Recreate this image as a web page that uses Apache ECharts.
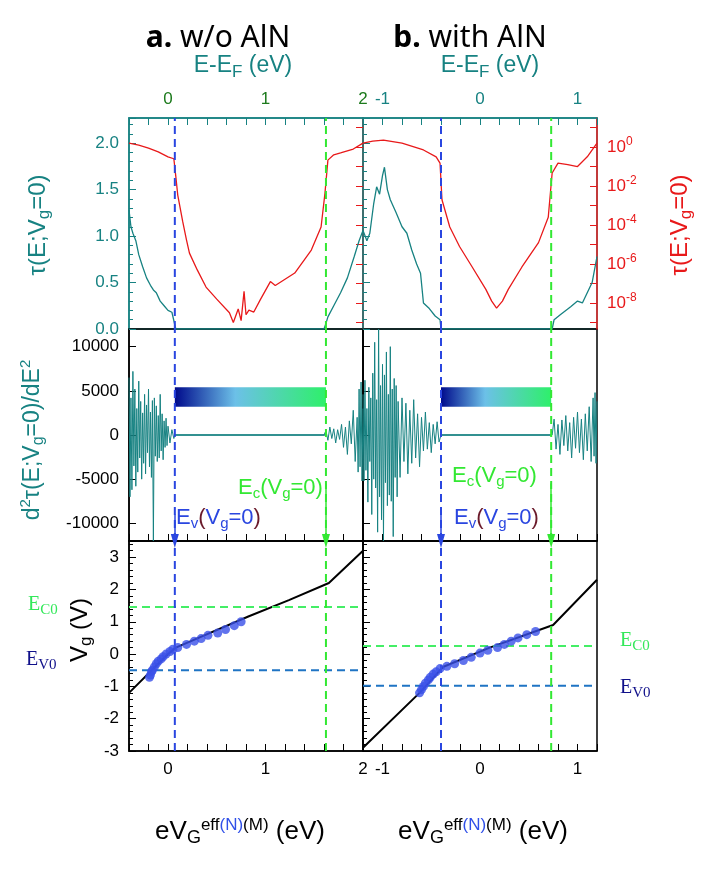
<!DOCTYPE html>
<html><head><meta charset="utf-8">
<script src="https://cdn.jsdelivr.net/npm/echarts@6/dist/echarts.min.js"></script>
<style>html,body{margin:0;padding:0;background:#fff}#c{width:720px;height:869px}</style>
</head><body><div id="c"></div>
<script>
// ---- data ----
// top row: transmission tau (linear, teal) and log10(tau) (red)
const tauA = [[-0.4,1.28],[-0.38,1.1],[-0.36,1.03],[-0.33,0.95],[-0.3,0.8],[-0.26,0.67],[-0.22,0.55],[-0.18,0.47],[-0.15,0.42],[-0.12,0.39],[-0.08,0.3],[-0.04,0.25],[0.0,0.2],[0.04,0.18],[0.08,0],[1.6,0],[1.62,0.06],[1.64,0.13],[1.7,0.25],[1.77,0.39],[1.84,0.55],[1.91,0.78],[1.96,0.95],[2.0,1.06]];
const logTauA = [[-0.4,0.2],[-0.3,0.1],[-0.2,-0.05],[-0.1,-0.25],[0.0,-0.5],[0.06,-0.6],[0.08,-1.5],[0.1,-2.46],[0.15,-3.8],[0.19,-4.77],[0.22,-5.44],[0.3,-6.3],[0.39,-7.18],[0.5,-7.8],[0.63,-8.5],[0.67,-9.0],[0.72,-8.3],[0.75,-8.9],[0.78,-7.4],[0.8,-8.6],[0.83,-8.36],[0.88,-8.46],[0.95,-7.8],[1.05,-6.9],[1.1,-7.1],[1.3,-6.46],[1.47,-5.28],[1.57,-4.1],[1.61,-2.36],[1.64,-0.67],[1.7,-0.4],[1.77,-0.3],[1.9,-0.1],[2.0,0.2]];
const tauB = [[-1.2,1.06],[-1.16,0.95],[-1.13,1.03],[-1.09,1.35],[-1.06,1.53],[-1.03,1.45],[-1.0,1.65],[-0.98,1.74],[-0.95,1.5],[-0.92,1.39],[-0.86,1.25],[-0.8,1.1],[-0.75,1.03],[-0.7,0.85],[-0.65,0.7],[-0.61,0.6],[-0.58,0.28],[-0.52,0.22],[-0.46,0.14],[-0.41,0.1],[-0.4,0],[0.74,0],[0.76,0.1],[0.82,0.15],[0.88,0.2],[0.93,0.24],[1.0,0.3],[1.05,0.28],[1.1,0.39],[1.15,0.5],[1.2,0.78]];
const logTauB = [[-1.2,0.2],[-1.1,0.3],[-0.99,0.36],[-0.8,0.2],[-0.58,-0.15],[-0.45,-0.5],[-0.41,-0.82],[-0.39,-2.7],[-0.31,-4.1],[-0.21,-5.1],[-0.08,-6.15],[0.06,-7.3],[0.12,-7.9],[0.17,-8.26],[0.23,-7.9],[0.29,-7.3],[0.43,-6.15],[0.6,-4.9],[0.7,-3.6],[0.74,-1.33],[0.8,-0.82],[0.9,-0.9],[1.0,-1.0],[1.1,-0.5],[1.2,0.2]];

// middle row: d2tau/dE2 (noisy second derivative)
const d2A = [[-0.4,6500],[-0.39,-7000],[-0.38,4200],[-0.37,-6200],[-0.36,7200],[-0.35,-3500],[-0.34,5200],[-0.33,-5800],[-0.32,3000],[-0.31,-4200],[-0.3,6100],[-0.29,-2600],[-0.28,3800],[-0.27,-5000],[-0.26,2500],[-0.25,-3200],[-0.24,4600],[-0.23,-4400],[-0.22,3400],[-0.21,-2000],[-0.2,5200],[-0.19,-3600],[-0.18,2600],[-0.17,-4800],[-0.16,3900],[-0.15,-12000],[-0.14,4200],[-0.13,-2400],[-0.12,3300],[-0.11,-3000],[-0.1,2200],[-0.09,-2600],[-0.08,4600],[-0.07,-1800],[-0.06,2400],[-0.05,-2800],[-0.04,1600],[-0.03,-1400],[-0.02,1900],[-0.01,-1200],[0.0,1000],[0.02,-900],[0.04,600],[0.06,-400],[0.07,0],[1.6,0],[1.62,500],[1.64,-600],[1.66,900],[1.68,-400],[1.7,700],[1.72,-900],[1.74,600],[1.76,-500],[1.78,1200],[1.8,-1400],[1.82,900],[1.84,-2200],[1.86,1600],[1.88,-1000],[1.9,2800],[1.92,-3000],[1.94,2000],[1.95,-4200],[1.96,5200],[1.97,-3600],[1.98,6000],[1.99,-5200],[2.0,3000]];
const d2B = [[-1.2,4600],[-1.19,-5200],[-1.18,6200],[-1.17,-4000],[-1.16,3000],[-1.15,-7600],[-1.14,5400],[-1.13,-3000],[-1.12,4200],[-1.11,-9000],[-1.1,7000],[-1.09,-5000],[-1.08,10500],[-1.07,-6000],[-1.06,4000],[-1.05,-11000],[-1.04,12000],[-1.03,-7000],[-1.02,5600],[-1.01,-9600],[-1.0,8000],[-0.99,-12000],[-0.98,6800],[-0.97,-5400],[-0.96,9400],[-0.95,-8000],[-0.94,4600],[-0.93,-6800],[-0.92,10000],[-0.91,-7500],[-0.9,5200],[-0.89,-11500],[-0.88,6400],[-0.87,-4800],[-0.86,5600],[-0.85,-7000],[-0.84,3800],[-0.82,-4800],[-0.8,4200],[-0.78,-3000],[-0.76,3600],[-0.74,-4400],[-0.72,2800],[-0.7,-3200],[-0.68,4000],[-0.66,-2600],[-0.64,2400],[-0.62,-3600],[-0.6,2000],[-0.58,-1800],[-0.56,2600],[-0.54,-1600],[-0.52,1400],[-0.5,-2000],[-0.48,1200],[-0.46,-1000],[-0.44,1500],[-0.42,-800],[-0.4,0],[0.74,0],[0.76,1800],[0.78,-1600],[0.8,1200],[0.82,-2200],[0.84,1700],[0.86,-1200],[0.88,2200],[0.9,-1800],[0.92,1400],[0.94,-2600],[0.96,2000],[0.98,-1500],[1.0,2600],[1.02,-2000],[1.04,1800],[1.06,-2800],[1.08,2400],[1.1,-1800],[1.12,3200],[1.14,-3000],[1.16,4200],[1.17,-2400],[1.18,4800],[1.19,-3200],[1.2,3800]];

// bottom row: Vg versus eVG (line) and measured points
const vgLineA = [[-0.4,-1.2],[0.0,0.0],[0.08,0.2],[0.83,1.17],[1.24,1.67],[1.65,2.2],[2.0,3.2]];
const vgDotsA = [[-0.19,-0.72],[-0.18,-0.65],[-0.17,-0.55],[-0.16,-0.5],[-0.14,-0.4],[-0.12,-0.3],[-0.1,-0.22],[-0.07,-0.15],[-0.05,-0.08],[-0.02,0.0],[0.02,0.08],[0.05,0.15],[0.1,0.2],[0.19,0.3],[0.27,0.4],[0.34,0.48],[0.41,0.58],[0.51,0.65],[0.59,0.76],[0.68,0.88],[0.75,1.0]];
const vgLineB = [[-1.2,-2.9],[-0.62,-1.2],[-0.38,-0.4],[0.1,0.2],[0.75,0.9],[1.2,2.3]];
const vgDotsB = [[-0.62,-1.2],[-0.6,-1.1],[-0.58,-1.0],[-0.56,-0.9],[-0.53,-0.8],[-0.51,-0.72],[-0.48,-0.62],[-0.45,-0.55],[-0.41,-0.45],[-0.34,-0.38],[-0.26,-0.3],[-0.17,-0.2],[-0.09,-0.1],[0.0,0.03],[0.08,0.12],[0.18,0.2],[0.25,0.3],[0.32,0.4],[0.39,0.5],[0.48,0.6],[0.57,0.7]];

// band edges and reference levels
const evEdge = [0.07, -0.4];
const ecEdge = [1.62, 0.73];
const ec0 = [1.46, 0.25];
const ev0 = [-0.5, -0.98];
const gapBand = [3200, 5400];

const xRange = [[-0.4, 2], [-1.2, 1.2]];
const xTicks = [[0, 1, 2], [-1, 0, 1]];
const logTicks = [-8, -6, -4, -2, 0];

const TEAL = '#178282', RED = '#e8191a', BLUE = '#2a46e0', GREEN = '#33e833';

const chart = echarts.init(document.getElementById('c'));
const colL = [129, 363], colW = 234;
const rowT = [118, 329, 541], rowH = [211, 212, 210];
const grids = [];
for (let r = 0; r < 3; r++) for (let c = 0; c < 2; c++)
  grids.push({ left: colL[c], top: rowT[r], width: colW, height: rowH[r], show: true,
    borderColor: r === 0 ? TEAL : '#000', borderWidth: 1.5, backgroundColor: 'transparent' });

function minorVals(c) {
  const out = [];
  const a = xRange[c][0], b = xRange[c][1];
  for (let k = Math.round(a * 5); k <= Math.round(b * 5); k++) out.push(k / 5);
  return out;
}
const xAxes = [];
for (let r = 0; r < 3; r++) for (let c = 0; c < 2; c++) {
  const lc = r === 0 ? TEAL : '#000';
  xAxes.push({
    type: 'value', gridIndex: r * 2 + c, min: xRange[c][0], max: xRange[c][1],
    position: r === 0 ? 'top' : 'bottom',
    axisLine: { lineStyle: { color: lc, width: 1.5 }, onZero: false },
    axisTick: { inside: true, length: 7, customValues: minorVals(c), lineStyle: { color: lc } },
    splitLine: { show: false },
    axisLabel: {
      show: r !== 1, customValues: xTicks[c], fontSize: 17, margin: 10,
      color: r === 0 ? (c === 0 ? '#1c7a1c' : TEAL) : '#000', fontFamily: 'Liberation Sans'
    }
  });
}
const yAxes = [
  { gridIndex: 0, min: 0, max: 2.27, interval: 0.5, showLabel: true, color: TEAL, fmt: v => v.toFixed(1), noMax: true },
  { gridIndex: 0, min: -9.33, max: 1.49, log: true, showLabel: false, color: RED },
  { gridIndex: 1, min: 0, max: 2.27, interval: 0.5, showLabel: false, color: TEAL },
  { gridIndex: 1, min: -9.33, max: 1.49, log: true, showLabel: true, color: RED },
  { gridIndex: 2, min: -12000, max: 12000, custom: [-10000, -5000, 0, 5000, 10000], showLabel: true, color: '#000' },
  { gridIndex: 3, min: -12000, max: 12000, custom: [-10000, -5000, 0, 5000, 10000], showLabel: false, color: '#000' },
  { gridIndex: 4, min: -3, max: 3.5, interval: 1, showLabel: true, color: '#000', noMax: true },
  { gridIndex: 5, min: -3, max: 3.5, interval: 1, showLabel: false, color: '#000' }
].map(a => {
  const o = {
    type: 'value', gridIndex: a.gridIndex, min: a.min, max: a.max,
    position: a.log ? 'right' : 'left',
    axisLine: { show: true, onZero: false, lineStyle: { color: a.color, width: 1.5 } },
    axisTick: { inside: true, length: 7, lineStyle: { color: a.color } },
    minorTick: { show: !a.log, splitNumber: 5, length: 4, lineStyle: { color: a.color } },
    splitLine: { show: false },
    axisLabel: { show: a.showLabel, fontSize: 17, color: a.color, fontFamily: 'Liberation Sans', margin: 10,
      formatter: v => String(v) }
  };
  if (a.noMax) o.axisLabel.showMaxLabel = false;
  if (a.interval) o.interval = a.interval;
  if (a.custom) { o.axisTick.customValues = a.custom; o.axisLabel.customValues = a.custom; o.minorTick.show = false; }
  if (a.fmt) o.axisLabel.formatter = a.fmt;
  if (a.log) {
    o.axisTick.customValues = [-9, -8, -7, -6, -5, -4, -3, -2, -1, 0, 1];
    o.axisLabel.customValues = logTicks;
    o.axisLabel.formatter = v => '10{s|' + v + '}';
    o.axisLabel.rich = { s: { fontSize: 12, color: RED, padding: [0, 0, 10, 0], fontFamily: 'Liberation Sans' } };
  }
  return o;
});

const series = [];
function line(xi, yi, data, color, width, dash, z) {
  series.push({ type: 'line', xAxisIndex: xi, yAxisIndex: yi, data, showSymbol: false, symbol: 'none',
    lineStyle: { color, width: width || 1.3, type: dash ? [8, 5] : 'solid' }, z: z || 2, silent: true, animation: false });
  return series[series.length - 1];
}
// top row
line(0, 0, tauA, TEAL); line(0, 1, logTauA, RED);
line(1, 2, tauB, TEAL); line(1, 3, logTauB, RED);
// middle row
line(2, 4, d2A, TEAL, 1); line(3, 5, d2B, TEAL, 1);
// bottom row
line(4, 6, vgLineA, '#000', 2); line(5, 7, vgLineB, '#000', 2);
[[4, 6, vgDotsA], [5, 7, vgDotsB]].forEach(([xi, yi, d]) => series.push({
  type: 'scatter', xAxisIndex: xi, yAxisIndex: yi, data: d, symbolSize: 9,
  itemStyle: { color: '#3a50e8' }, z: 5, animation: false }));
// horizontal reference levels
for (let c = 0; c < 2; c++) {
  line(4 + c, 6 + c, [[xRange[c][0], ec0[c]], [xRange[c][1], ec0[c]]], '#44ee66', 2, true, 3);
  line(4 + c, 6 + c, [[xRange[c][0], ev0[c]], [xRange[c][1], ev0[c]]], '#1f74c4', 2, true, 3);
}
// vertical band-edge lines through all rows
const yIdx = [[0, 2], [4, 5], [6, 7]], yLim = [[0, 2.27], [-12000, 12000], [-3, 3.5]];
for (let r = 0; r < 3; r++) for (let c = 0; c < 2; c++) {
  const xi = r * 2 + c, yi = yIdx[r][c];
  const b = line(xi, yi, [[evEdge[c], yLim[r][0]], [evEdge[c], yLim[r][1]]], BLUE, 2, true, 4);
  const g = line(xi, yi, [[ecEdge[c], yLim[r][0]], [ecEdge[c], yLim[r][1]]], GREEN, 2, true, 4);
  if (r === 1) {
    b.markLine = { silent: true, symbol: ['none', 'triangle'], symbolSize: [8, 14], label: { show: false },
      lineStyle: { color: BLUE, width: 1.5, type: 'solid' }, animation: false,
      data: [[{ coord: [evEdge[c], -9000] }, { coord: [evEdge[c], -12000] }]] };
    g.markLine = { silent: true, symbol: ['none', 'triangle'], symbolSize: [8, 14], label: { show: false },
      lineStyle: { color: GREEN, width: 1.5, type: 'solid' }, animation: false,
      data: [[{ coord: [ecEdge[c], -5500] }, { coord: [ecEdge[c], -12000] }]] };
    // flat zero line across the gap and gradient band
    line(xi, yi, [[evEdge[c], 0], [ecEdge[c], 0]], TEAL, 1.5, false, 3);
    series.push({ type: 'line', xAxisIndex: xi, yAxisIndex: yi, data: [], silent: true,
      markArea: { silent: true, animation: false,
        itemStyle: { color: new echarts.graphic.LinearGradient(0, 0, 1, 0, [
          { offset: 0, color: '#000a8c' }, { offset: 0.4, color: '#6cc0e8' }, { offset: 1, color: '#2ef06a' }]) },
        data: [[{ coord: [evEdge[c], gapBand[0]] }, { coord: [ecEdge[c], gapBand[1]] }]] } });
  }
}

const F = 'Liberation Sans';
function txt(x, y, text, size, color, extra) {
  return Object.assign({ type: 'text', x, y, style: Object.assign({ text, fontSize: size, fill: color, fontFamily: F }, extra || {}) });
}
const sub = s => ({ fontSize: s, padding: [12, 0, 0, 0], fontFamily: F });
const sup = s => ({ fontSize: s, padding: [0, 0, 14, 0], fontFamily: F });
const serifSub = c => ({ fontSize: 15, padding: [10, 0, 0, 0], fill: c, fontFamily: 'Liberation Serif' });
const graphic = [
  txt(218, 38, '{b|a.} w/o AlN', 30, '#000', { align: 'center', verticalAlign: 'middle', fontFamily: 'Noto Sans', rich: { b: { fontWeight: 'bold', fontSize: 30, fontFamily: 'Noto Sans' } } }),
  txt(470, 38, '{b|b.} with AlN', 30, '#000', { align: 'center', verticalAlign: 'middle', fontFamily: 'Noto Sans', rich: { b: { fontWeight: 'bold', fontSize: 30, fontFamily: 'Noto Sans' } } }),
  txt(243, 66, 'E-E{s|F} (eV)', 23, TEAL, { align: 'center', verticalAlign: 'middle', rich: { s: Object.assign(sub(17), { fill: TEAL }) } }),
  txt(490, 66, 'E-E{s|F} (eV)', 23, TEAL, { align: 'center', verticalAlign: 'middle', rich: { s: Object.assign(sub(17), { fill: TEAL }) } }),
  { type: 'text', x: 38, y: 225, rotation: Math.PI / 2, style: { text: 'τ(E;V{s|g}=0)', fontSize: 24, fill: TEAL, fontFamily: F, align: 'center', verticalAlign: 'middle', rich: { s: Object.assign(sub(17), { fill: TEAL }) } } },
  { type: 'text', x: 680, y: 225, rotation: Math.PI / 2, style: { text: 'τ(E;V{s|g}=0)', fontSize: 24, fill: RED, fontFamily: F, align: 'center', verticalAlign: 'middle', rich: { s: Object.assign(sub(17), { fill: RED }) } } },
  { type: 'text', x: 33, y: 440, rotation: Math.PI / 2, style: { text: 'd{p|2}τ(E;V{s|g}=0)/dE{p|2}', fontSize: 23, fill: TEAL, fontFamily: F, align: 'center', verticalAlign: 'middle', rich: { s: Object.assign(sub(16), { fill: TEAL }), p: Object.assign(sup(15), { fill: TEAL }) } } },
  { type: 'text', x: 80, y: 630, rotation: Math.PI / 2, style: { text: 'V{s|g} (V)', fontSize: 24, fill: '#000', fontFamily: F, align: 'center', verticalAlign: 'middle', rich: { s: sub(17) } } },
  txt(176, 518, 'E{s|v}{r|(}V{s|g}=0{r|)}', 22, BLUE, { verticalAlign: 'middle', rich: { s: Object.assign(sub(15), { fill: BLUE }), r: { fontSize: 22, fill: '#6a1a2a', fontFamily: F } } }),
  txt(238, 488, 'E{s|c}(V{s|g}=0)', 22, GREEN, { verticalAlign: 'middle', rich: { s: Object.assign(sub(15), { fill: GREEN }) } }),
  txt(454, 518, 'E{s|v}{r|(}V{s|g}=0{r|)}', 22, BLUE, { verticalAlign: 'middle', rich: { s: Object.assign(sub(15), { fill: BLUE }), r: { fontSize: 22, fill: '#6a1a2a', fontFamily: F } } }),
  txt(452, 476, 'E{s|c}(V{s|g}=0)', 22, GREEN, { verticalAlign: 'middle', rich: { s: Object.assign(sub(15), { fill: GREEN }) } }),
  txt(28, 605, 'E{s|C0}', 20, '#33e85a', { verticalAlign: 'middle', fontFamily: 'Liberation Serif', rich: { s: serifSub('#33e85a') } }),
  txt(26, 660, 'E{s|V0}', 20, '#10108a', { verticalAlign: 'middle', fontFamily: 'Liberation Serif', rich: { s: serifSub('#10108a') } }),
  txt(620, 641, 'E{s|C0}', 20, '#33e85a', { verticalAlign: 'middle', fontFamily: 'Liberation Serif', rich: { s: serifSub('#33e85a') } }),
  txt(620, 688, 'E{s|V0}', 20, '#10108a', { verticalAlign: 'middle', fontFamily: 'Liberation Serif', rich: { s: serifSub('#10108a') } }),
  txt(240, 832, 'eV{s|G}{e|eff}{n|(N)}{e|(M)} (eV)', 26, '#000', { align: 'center', verticalAlign: 'middle', rich: { s: sub(18), e: sup(17), n: Object.assign(sup(17), { fill: '#3050e8' }) } }),
  txt(483, 832, 'eV{s|G}{e|eff}{n|(N)}{e|(M)} (eV)', 26, '#000', { align: 'center', verticalAlign: 'middle', rich: { s: sub(18), e: sup(17), n: Object.assign(sup(17), { fill: '#3050e8' }) } })
];

chart.setOption({ animation: false, grid: grids, xAxis: xAxes, yAxis: yAxes, series, graphic });
</script>
</body></html>
